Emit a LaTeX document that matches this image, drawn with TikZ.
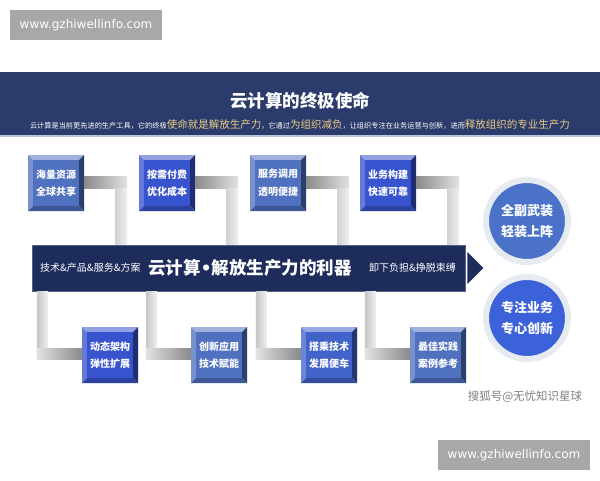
\documentclass[tikz,border=0pt]{standalone}
\usepackage{fontspec}
\setmainfont{Noto Sans CJK SC}
\newfontfamily\wmfont{DejaVu Sans}
\usetikzlibrary{calc}
\definecolor{hdr}{HTML}{2B3B6B}
\definecolor{hdrline}{HTML}{B8C6DE}
\definecolor{banc}{HTML}{1E2C5C}
\definecolor{goldc}{HTML}{E8CB84}
\definecolor{wmgray}{HTML}{A8A8A8}
\definecolor{faceA}{HTML}{5070C0}
\definecolor{faceB}{HTML}{3754CE}
\definecolor{faceC}{HTML}{4263CA}
\definecolor{circA}{HTML}{4A72C8}
\definecolor{circB}{HTML}{3B62D8}
\definecolor{cdark}{HTML}{8A8A8A}
\definecolor{clight}{HTML}{E2E2E2}
\definecolor{cvert}{HTML}{C6C6C6}
\definecolor{haloc}{HTML}{E6EAF1}
\tikzset{
  boxtext/.style={text=white, font=\bfseries\fontsize{10}{17.5}\selectfont, align=center, inner sep=0pt, minimum size=56pt},
  wmbox/.style={fill=wmgray, text=white, font=\wmfont\fontsize{12}{14}\selectfont, minimum width=152pt, minimum height=30pt, inner sep=0pt},
  bannerbox/.style={fill=banc, draw=banc!75!white, line width=0.6pt, minimum width=433pt, minimum height=46pt, inner sep=0pt},
  bantext/.style={text=white, font=\fontsize{10}{12}\selectfont, inner sep=0pt},
  banbig/.style={text=white, font=\bfseries\fontsize{17.5}{20}\selectfont, inner sep=0pt},
  circnode/.style={circle, draw=haloc, line width=6pt, minimum size=82pt, text=white, font=\bfseries\fontsize{13}{21}\selectfont, align=center, inner sep=0pt},
  titletext/.style={text=white, font=\bfseries\fontsize{17.5}{20}\selectfont, inner sep=0pt},
  subtext/.style={text=white, inner sep=0pt},
  sohu/.style={text=black!50, font=\fontsize{11.5}{13}\selectfont, inner sep=0pt}
}
\newcommand\bevbox[6]{%
  \begin{scope}[shift={(#2,#3)}]
    \fill[#4!55!white] (-28,-28) -- (28,-28) -- (23,-23) -- (-23,-23) -- cycle;
    \fill[#4!78!white] (-28,-28) -- (-23,-23) -- (-23,23) -- (-28,28) -- cycle;
    \fill[#4!55!black] (28,-28) -- (28,28) -- (23,23) -- (23,-23) -- cycle;
    \fill[#4!78!black] (-28,28) -- (28,28) -- (23,23) -- (-23,23) -- cycle;
    \fill[#4] (-23,-23) rectangle (23,23);
  \end{scope}
  \node[boxtext] (#1) at (#2,#3) {#5\\#6};
}
\newcommand\topconn[1]{%
  \coordinate (#1h) at ($(#1.east)+(43,0)$);
  \shade[left color=cdark, right color=clight] ($(#1.east)+(0,-7)$) rectangle ($(#1.east)+(43,5)$);
  \shade[left color=cvert!80!white, right color=white!94!black] ($(#1.east)+(31,5)$) rectangle (#1h |- ban.north);
}
\newcommand\botconn[1]{%
  \coordinate (#1v) at ($(#1.west)+(-45,0)$);
  \shade[left color=cvert, right color=white!94!black] (#1v |- ban.south) rectangle ($(#1.west)+(-34,4)$);
  \shade[left color=clight, right color=cdark] ($(#1.west)+(-45,-7)$) rectangle ($(#1.west)+(0,4)$);
}
\begin{document}
\begin{tikzpicture}[x=1pt,y=-1pt]
\useasboundingbox (0,0) rectangle (600,480);
\fill[white] (0,0) rectangle (600,480);
% header band
\fill[hdr] (0,72) rectangle (600,135);
\fill[hdrline] (0,135) rectangle (600,137);
\node[titletext] (ttl) at (300,101) {云计算的终极使命};
\node[subtext] (subt) at (300,124) {\fontsize{7.2}{9}\selectfont 云计算是当前更先进的生产工具，它的终极\textcolor{goldc}{\fontsize{10.5}{12}\selectfont 使命就是解放生产力}，它通过\textcolor{goldc}{\fontsize{10.5}{12}\selectfont 为组织减负}，让组织专注在业务运营与创新，进而\textcolor{goldc}{\fontsize{10.5}{12}\selectfont 释放组织的专业生产力}};
% watermarks
\node[wmbox] (wm1) at (86,25) {www.gzhiwellinfo.com};
\node[wmbox] (wm2) at (514,455) {www.gzhiwellinfo.com};
% banner
\node[bannerbox] (ban) at (248.5,268) {};
\fill[banc] ($(ban.east)+(2,-16)$) -- ($(ban.east)+(18,0)$) -- ($(ban.east)+(2,16)$) -- cycle;
\node[bantext, anchor=west] (bt1) at (40,268) {技术\&产品\&服务\&方案};
\node[banbig, anchor=west] (bt2) at (148,268) {云计算{\wmfont\bfseries •}解放生产力的利器};
\node[bantext, anchor=east] (bt3) at (456,268) {卸下负担\&挣脱束缚};
% top boxes
\bevbox{b1}{56}{183}{faceA}{海量资源}{全球共享}
\bevbox{b2}{167}{183}{faceB}{按需付费}{优化成本}
\bevbox{b3}{278}{183}{faceA}{服务调用}{透明便捷}
\bevbox{b4}{388}{183}{faceB}{业务构建}{快速可靠}
\topconn{b1}
\topconn{b2}
\topconn{b3}
\topconn{b4}
% bottom boxes
\bevbox{b5}{110}{355}{faceB}{动态架构}{弹性扩展}
\bevbox{b6}{219}{355}{faceA}{创新应用}{技术赋能}
\bevbox{b7}{329}{355}{faceC}{搭乘技术}{发展便车}
\bevbox{b8}{438}{355}{faceA}{最佳实践}{案例参考}
\botconn{b5}
\botconn{b6}
\botconn{b7}
\botconn{b8}
% circles
\node[circnode, fill=circA] (c1) at (527,221) {全副武装\\轻装上阵};
\node[circnode, fill=circB] (c2) at (527,318) {专注业务\\专心创新};
% source mark
\node[sohu] (sh) at (525,397) {搜狐号@无忧知识星球};
\end{tikzpicture}
\end{document}
